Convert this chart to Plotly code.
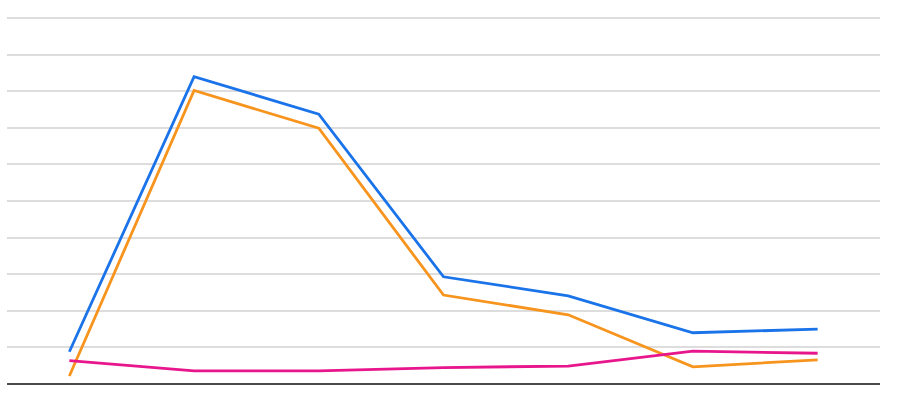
import plotly.graph_objects as go

# Data (7 points, no labels shown)
categories = [1, 2, 3, 4, 5, 6, 7]
blue_vals = [8.8, 84.0, 73.7, 29.3, 24.1, 14.0, 15.0]
orange_vals = [2.2, 80.2, 69.9, 24.3, 18.9, 4.7, 6.6]
pink_vals = [6.4, 3.6, 3.6, 4.5, 4.9, 9.0, 8.4]

fig = go.Figure()

for vals, color in [
    (blue_vals, "#1a73e8"),
    (orange_vals, "#f7941d"),
    (pink_vals, "#e8168c"),
]:
    fig.add_trace(go.Scatter(
        x=categories, y=vals,
        mode="lines",
        line=dict(color=color, width=2.8),
        showlegend=False,
        hoverinfo="skip"
    ))

fig.update_layout(
    width=912, height=400,
    margin=dict(l=7, r=32, t=16, b=16),
    paper_bgcolor="white",
    plot_bgcolor="white",
    showlegend=False,
)
fig.update_xaxes(
    range=[0.5, 7.5],
    showgrid=False, zeroline=False, showticklabels=False,
    showline=False,
)
fig.update_yaxes(
    range=[0, 100.55],
    dtick=10,
    showgrid=True, gridcolor="#dddddd", gridwidth=1.6,
    zeroline=True, zerolinecolor="#4a4a4a", zerolinewidth=2,
    showticklabels=False, showline=False,
)

fig.write_html("out.html", config={"displayModeBar": False},
               post_script="document.body.style.margin='0';")
